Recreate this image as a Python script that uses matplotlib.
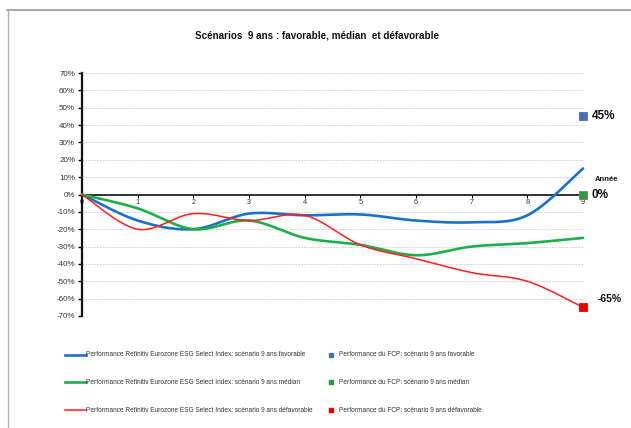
import numpy as np
import matplotlib
matplotlib.use("Agg")
import matplotlib.pyplot as plt
from matplotlib.lines import Line2D
from matplotlib import font_manager

plt.rcParams['font.family'] = ['Liberation Sans', 'DejaVu Sans']

# Years of holding period
years = [0, 1, 2, 3, 4, 5, 6, 7, 8, 9]

# Index performance per scenario (fraction)
index_favorable = [0.0, -0.15, -0.20, -0.11, -0.12, -0.115, -0.15, -0.16, -0.12, 0.15]
index_median = [0.0, -0.08, -0.20, -0.15, -0.25, -0.29, -0.35, -0.30, -0.28, -0.25]
index_defavorable = [0.0, -0.20, -0.11, -0.15, -0.12, -0.29, -0.37, -0.45, -0.50, -0.65]

# Fund (FCP) performance at year 9 per scenario
fcp_year = 9
fcp_favorable = 0.45
fcp_median = 0.0
fcp_defavorable = -0.65
fcp_labels = ["45%", "0%", "-65%"]

yticks = [v / 100 for v in range(-70, 71, 10)]
ytick_labels = [f"{v}%" for v in range(-70, 71, 10)]

index_names = [
    "Performance Refinitiv Eurozone ESG Select Index: scénario 9 ans favorable",
    "Performance Refinitiv Eurozone ESG Select Index: scénario 9 ans médian",
    "Performance Refinitiv Eurozone ESG Select Index: scénario 9 ans défavorable",
]
fcp_names = [
    "Performance du FCP: scénario 9 ans favorable",
    "Performance du FCP: scénario 9 ans médian",
    "Performance du FCP: scénario 9 ans défavorable",
]

line_colors = ["#1a72c4", "#1fae4b", "#ff1f1f"]
line_widths = [1.9, 1.9, 1.1]
marker_colors = ["#4a6fb5", "#2a9a45", "#e80000"]

installed = {f.name for f in font_manager.fontManager.ttflist}
legend_family = ['Liberation Sans Narrow', 'DejaVu Sans'] if 'Liberation Sans Narrow' in installed \
    else ['Liberation Sans', 'DejaVu Sans']
legend_size = 5.6 if 'Liberation Sans Narrow' in installed else 4.7


def smooth(xs, ys, n=30):
    """Catmull-Rom curve through the points (Excel-style smoothed line)."""
    xs = np.asarray(xs, float)
    ys = np.asarray(ys, float)
    px = np.concatenate([[xs[0]], xs, [xs[-1]]])
    py = np.concatenate([[ys[0]], ys, [ys[-1]]])
    out_x, out_y = [], []
    t = np.linspace(0, 1, n)
    for i in range(1, len(px) - 2):
        p0, p1, p2, p3 = (np.array([px[j], py[j]]) for j in (i - 1, i, i + 1, i + 2))
        c1 = p1 + (p2 - p0) / 6
        c2 = p2 - (p3 - p1) / 6
        pts = ((1 - t) ** 3)[:, None] * p1 + (3 * (1 - t) ** 2 * t)[:, None] * c1 \
            + (3 * (1 - t) * t ** 2)[:, None] * c2 + (t ** 3)[:, None] * p2
        out_x.extend(pts[:, 0])
        out_y.extend(pts[:, 1])
    return np.array(out_x), np.array(out_y)


fig = plt.figure(figsize=(6.31, 4.28), dpi=100)
ax = fig.add_axes([0.130, 0.2617, 0.794, 0.5677])

ax.set_xlim(0, 9)
ax.set_ylim(-0.7, 0.7)

# Horizontal dashed grid
for v in yticks:
    ax.axhline(v, color="#c8c8c8", lw=0.6, ls=(0, (2, 1.5)), zorder=0)

series = [index_favorable, index_median, index_defavorable]
for vals, c, lw in zip(series, line_colors, line_widths):
    sx, sy = smooth(years, vals)
    ax.plot(sx, sy, color=c, lw=lw, zorder=3, clip_on=False, solid_capstyle="round")

# Spines: vertical axis on the left, horizontal axis through 0
for s in ("top", "right"):
    ax.spines[s].set_visible(False)
ax.spines["left"].set_linewidth(1.6)
ax.spines["left"].set_color("#111111")
ax.spines["bottom"].set_position(("data", 0))
ax.spines["bottom"].set_linewidth(1.2)
ax.spines["bottom"].set_color("#111111")
ax.spines["bottom"].set_zorder(2)

ax.set_yticks(yticks)
ax.set_yticklabels(ytick_labels, fontsize=5.8, color="#333333")
ax.tick_params(axis="y", direction="out", length=3, width=1, pad=2)
ax.set_xticks(years)
ax.set_xticklabels([str(y) for y in years], fontsize=5.2, color="#333333")
ax.tick_params(axis="x", direction="out", length=2, width=0.8, pad=1.5)

# Fund points at year 9
fcp_vals = [fcp_favorable, fcp_median, fcp_defavorable]
for v, c in zip(fcp_vals, marker_colors):
    ax.plot([fcp_year], [v], marker="s", ms=5.5, color=c, mec=c if v != 0 else "#9a7070",
            mew=0.6, ls="none", zorder=5, clip_on=False)

ax.text(fcp_year + 0.16, fcp_favorable, fcp_labels[0], fontsize=8.5, fontweight="bold",
        va="center", ha="left", color="#111111")
ax.text(fcp_year + 0.16, fcp_median, fcp_labels[1], fontsize=8.5, fontweight="bold",
        va="center", ha="left", color="#111111")
ax.text(fcp_year + 0.27, -0.60, fcp_labels[2], fontsize=7.5, fontweight="bold",
        va="center", ha="left", color="#111111")
ax.text(fcp_year + 0.42, 0.085, "Année", fontsize=5.5, fontweight="bold",
        va="center", ha="center", color="#111111")

fig.text(0.503, 0.918, "Scénarios  9 ans : favorable, médian  et défavorable",
         ha="center", va="center", fontsize=7.1, fontweight="bold", color="#111111")

# Legend drawn in figure coordinates
rows_y = [1 - 355 / 428, 1 - 382 / 428, 1 - 410 / 428]
for ry, name, c, lw in zip(rows_y, index_names, line_colors, line_widths):
    fig.add_artist(Line2D([65 / 631, 86 / 631], [ry, ry], color=c, lw=lw,
                          transform=fig.transFigure))
    fig.text(86 / 631, ry, name, fontsize=legend_size, family=legend_family,
             va="center", ha="left", color="#333333")
for ry, name, c in zip(rows_y, fcp_names, marker_colors):
    fig.add_artist(Line2D([330.5 / 631], [ry], marker="s", ms=3.2, color=c, ls="none",
                          transform=fig.transFigure))
    fig.text(339 / 631, ry, name, fontsize=legend_size, family=legend_family,
             va="center", ha="left", color="#333333")

# Outer frame (top and left edges)
fig.add_artist(Line2D([7 / 631, 1.0], [1 - 9.5 / 428, 1 - 9.5 / 428], color="#9a9a9a",
                      lw=1.2, transform=fig.transFigure))
fig.add_artist(Line2D([7.5 / 631, 7.5 / 631], [1 - 9.5 / 428, 0], color="#b0b0b0",
                      lw=1.0, transform=fig.transFigure))

fig.savefig("out.png", dpi=100, facecolor="white")
